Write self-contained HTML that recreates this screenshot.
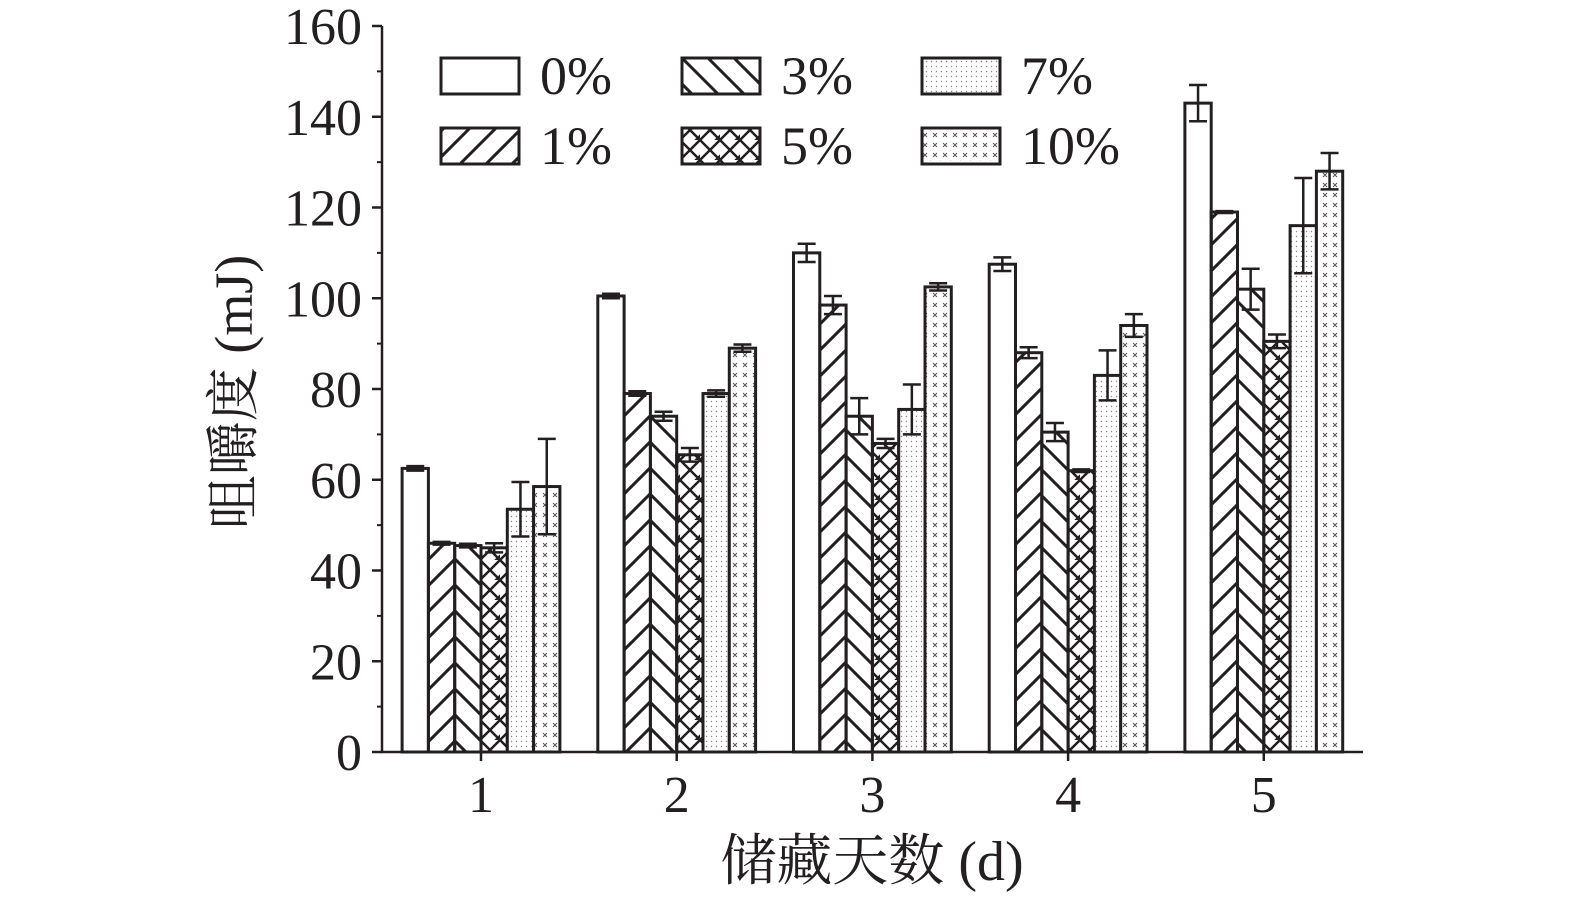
<!DOCTYPE html>
<html><head><meta charset="utf-8"><style>
body{margin:0;background:#fff;}
svg text{font-family:"Liberation Serif","Noto Serif CJK SC",serif;fill:#231f20;}
</style></head><body>
<svg id="chart" width="1575" height="901" viewBox="0 0 1575 901" xmlns="http://www.w3.org/2000/svg">
<defs>
<pattern id="p1" patternUnits="userSpaceOnUse" width="26" height="26"><path d="M-2,28 L28,-2 M-13,13 L13,-13 M13,39 L39,13" stroke="#231f20" stroke-width="3"/></pattern>
<pattern id="p3" patternUnits="userSpaceOnUse" width="26" height="26"><path d="M-2,-2 L28,28 M-13,13 L13,39 M13,-13 L39,13" stroke="#231f20" stroke-width="3"/></pattern>
<pattern id="p5" patternUnits="userSpaceOnUse" width="20" height="20"><path d="M-2,-2 L22,22 M-2,22 L22,-2 M-12,8 L8,28 M12,-8 L32,12 M-12,12 L12,-12 M8,28 L28,8" stroke="#231f20" stroke-width="2.5"/></pattern>
<pattern id="p7" patternUnits="userSpaceOnUse" width="5" height="5"><rect width="5" height="5" fill="#fff"/><circle cx="1.5" cy="1.5" r="0.7" fill="#888"/></pattern>
<pattern id="p10" patternUnits="userSpaceOnUse" width="10" height="10"><rect width="10" height="10" fill="#fff"/><path d="M3,3 L7,7 M7,3 L3,7" stroke="#555" stroke-width="1"/><circle cx="0" cy="0" r="0.6" fill="#999"/></pattern>
</defs>
<g id="plot"></g>
<g id="legend"></g>
</svg>
<script>
const categories=["1","2","3","4","5"];
const seriesNames=["0%","1%","3%","5%","7%","10%"];
const s0=[62.5,100.5,110,107.5,143];
const s1=[46,79,98.5,88,119];
const s2=[45.5,74,74,70.5,102];
const s3=[45,65.5,68,62,90.5];
const s4=[53.5,79,75.5,83,116];
const s5=[58.5,89,102.5,94,128];
const e0=[0.5,0.5,2,1.5,4];
const e1=[0.3,0.5,2,1.2,0.2];
const e2=[0.4,1,4,2,4.5];
const e3=[1,1.5,1,0.3,1.5];
const e4=[6,0.7,5.5,5.5,10.5];
const e5=[10.5,0.8,0.8,2.5,4];
const yTicks=[0,20,40,60,80,100,120,140,160];
const fills=["#fff","url(#p1)","url(#p3)","url(#p5)","url(#p7)","url(#p10)"];
const NS="http://www.w3.org/2000/svg";
const x0=382,x1=1363,yb=752,yt=26;
const y=v=>yb-(v/160)*(yb-yt);
const gc=i=>481+i*195.7;
const bw=26.3;
const g=document.getElementById('plot');
function mk(t,a,p){const e=document.createElementNS(NS,t);for(const k in a)e.setAttribute(k,a[k]);(p||g).appendChild(e);return e;}
const S=[s0,s1,s2,s3,s4,s5],E=[e0,e1,e2,e3,e4,e5];
categories.forEach((c,i)=>{
  S.forEach((s,j)=>{
    const bx=gc(i)-3*bw+j*bw;
    const r=mk('rect',{x:bx,y:y(s[i]),width:bw,height:yb-y(s[i]),fill:fills[j],stroke:'#231f20','stroke-width':3});
    
    
    const cx=bx+bw/2,hi=y(s[i]+E[j][i]),lo=y(s[i]-E[j][i]);
    const eb=mk('path',{d:`M${cx},${hi}V${lo}M${cx-9},${hi}H${cx+9}M${cx-9},${lo}H${cx+9}`,stroke:'#231f20','stroke-width':2.5,fill:'none'});
    
    
  });
  const t=mk('text',{x:gc(i),y:812,'text-anchor':'middle','font-size':52});t.textContent=c;
  
  
  mk('line',{x1:gc(i),x2:gc(i),y1:yb,y2:yb+9,stroke:'#231f20','stroke-width':2.5});
});
const ax=mk('path',{d:`M${x0},${yt}V${yb}H${x1}`,stroke:'#231f20','stroke-width':2.5,fill:'none'});


yTicks.forEach(v=>{
  mk('line',{x1:x0-10,x2:x0,y1:y(v),y2:y(v),stroke:'#231f20','stroke-width':2.5});
  if(v<160)mk('line',{x1:x0-5,x2:x0,y1:y(v+10),y2:y(v+10),stroke:'#231f20','stroke-width':2});
  const t=mk('text',{x:x0-20,y:y(v)+18,'text-anchor':'end','font-size':52});t.textContent=v;
  
  
});
const yl=mk('text',{transform:'translate(252,392) rotate(-90)','text-anchor':'middle','font-size':54});yl.textContent='咀嚼度 (mJ)';


const xl=mk('text',{x:872,y:880,'text-anchor':'middle','font-size':56});xl.textContent='储藏天数 (d)';


const L=document.getElementById('legend');
const lpos=[[441,58],[441,128],[682,58],[682,128],[922,58],[922,128]];
seriesNames.forEach((n,j)=>{
  const [lx,ly]=lpos[j];
  const r=mk('rect',{x:lx,y:ly,width:78,height:36,fill:fills[j],stroke:'#231f20','stroke-width':3},L);
  
  
  const t=mk('text',{x:lx+99,y:ly+36,'font-size':54},L);t.textContent=n;
  
  
});
</script>
</body></html>
